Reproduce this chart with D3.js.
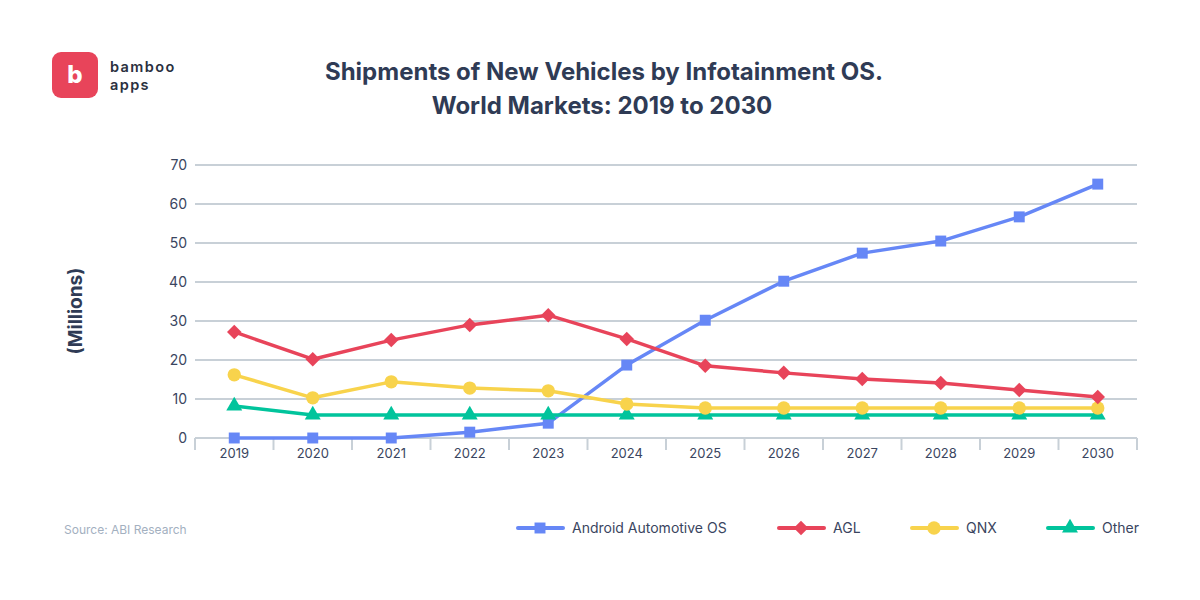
<!DOCTYPE html>
<html><head><meta charset="utf-8">
<script src="https://cdn.jsdelivr.net/npm/d3@7"></script>
<style>
html,body{margin:0;padding:0;background:#fff;}
svg{display:block;font-family:Inter, "Noto Sans", sans-serif;}
</style></head>
<body><svg id="c" width="1200" height="600"></svg>
<script>
const years = ["2019","2020","2021","2022","2023","2024","2025","2026","2027","2028","2029","2030"];
const android = [0,0,0,1.5,3.8,18.7,30.2,40.2,47.4,50.5,56.7,65.1];
const agl = [27.2,20.2,25.1,29,31.5,25.4,18.5,16.7,15.1,14.1,12.3,10.5];
const qnx = [16.2,10.3,14.4,12.8,12.1,8.7,7.7,7.7,7.7,7.7,7.7,7.7];
const other = [8.2,5.9,5.9,5.9,5.9,5.9,5.9,5.9,5.9,5.9,5.9,5.9];
const yTicks = [0,10,20,30,40,50,60,70];
const seriesNames = ["Android Automotive OS","AGL","QNX","Other"];

const series = [
  {name:seriesNames[0], values:android, color:"#6687f6", sym:d3.symbolSquare, size:120, rot:0},
  {name:seriesNames[1], values:agl, color:"#e8445a", sym:d3.symbolSquare, size:105, rot:45},
  {name:seriesNames[2], values:qnx, color:"#f8d34c", sym:d3.symbolCircle, size:140, rot:0},
  {name:seriesNames[3], values:other, color:"#01c49c", sym:d3.symbolTriangle, size:110, rot:0}
];

const svg = d3.select("#c");
const L=195, R=1137, T=165, B=438;
const x = d3.scaleBand().domain(years).range([L,R]);
const y = d3.scaleLinear().domain([0,70]).range([B,T]);
const textCol = "#2f3b55";

// logo
svg.append("rect").attr("x",52).attr("y",52).attr("width",46).attr("height",46).attr("rx",9).attr("fill","#e8445a");
svg.append("text").attr("x",75).attr("y",83).attr("text-anchor","middle").attr("fill","#fff")
  .attr("font-size",24).attr("font-weight",800).text("b");
svg.append("text").attr("x",110).attr("y",72).attr("fill","#2a3040").attr("font-size",14.5)
  .attr("font-weight",600).attr("letter-spacing",1.4).text("bamboo");
svg.append("text").attr("x",110).attr("y",90).attr("fill","#2a3040").attr("font-size",14.5)
  .attr("font-weight",600).attr("letter-spacing",1.4).text("apps");

// title
svg.append("text").attr("x",604).attr("y",80).attr("text-anchor","middle").attr("fill",textCol)
  .attr("font-size",24).attr("font-weight",700).text("Shipments of New Vehicles by Infotainment OS.");
svg.append("text").attr("x",602).attr("y",114).attr("text-anchor","middle").attr("fill",textCol)
  .attr("font-size",24).attr("font-weight",700).text("World Markets: 2019 to 2030");

// y title
svg.append("text").attr("transform","translate(82,311) rotate(-90)").attr("text-anchor","middle")
  .attr("fill",textCol).attr("font-size",19).attr("font-weight",700).text("(Millions)");

// grid
svg.append("g").selectAll("line").data(yTicks).join("line")
  .attr("x1",L).attr("x2",R).attr("y1",d=>y(d)).attr("y2",d=>y(d))
  .attr("stroke","#c8d0d7").attr("stroke-width",2);

// y axis labels
svg.append("g").attr("transform",`translate(${L},0)`)
  .call(d3.axisLeft(y).tickValues(yTicks).tickSize(0).tickPadding(8))
  .call(g=>g.select(".domain").remove())
  .call(g=>g.selectAll("text").attr("font-size",14).attr("fill","#3a4560").attr("font-family","Inter, sans-serif"));

// x axis
const xa = svg.append("g").attr("transform",`translate(0,${B})`)
  .call(d3.axisBottom(x).tickSize(0).tickPadding(11));
xa.select(".domain").remove();
xa.selectAll("text").attr("font-size",13).attr("fill","#3a4560").attr("font-family","Inter, sans-serif");
const bounds = years.map(d=>x(d)).concat([R]);
svg.append("g").selectAll("line").data(bounds).join("line")
  .attr("x1",d=>d).attr("x2",d=>d).attr("y1",B).attr("y2",B+12)
  .attr("stroke","#c8d0d7").attr("stroke-width",2);

// lines
const line = d3.line().x((d,i)=>x(years[i])+x.bandwidth()/2).y(d=>y(d));
const drawOrder = [0,3,2,1];
drawOrder.forEach(k=>{
  const s = series[k];
  const g = svg.append("g");
  g.append("path").attr("d",line(s.values)).attr("fill","none").attr("stroke",s.color)
    .attr("stroke-width",3.5).attr("stroke-linejoin","round");
  g.selectAll("path.m").data(s.values).join("path").attr("class","m")
    .attr("transform",(d,i)=>`translate(${x(years[i])+x.bandwidth()/2},${y(d)}) rotate(${s.rot})`)
    .attr("d",d3.symbol().type(s.sym).size(s.size)).attr("fill",s.color);
});

// source
svg.append("text").attr("x",64).attr("y",534).attr("fill","#a3b0bf").attr("font-size",12).text("Source: ABI Research");

// legend
const legX = [518,779,912,1048];
series.forEach((s,k)=>{
  const g = svg.append("g").attr("transform",`translate(${legX[k]},528)`);
  g.append("line").attr("x1",0).attr("x2",45).attr("y1",0).attr("y2",0).attr("stroke",s.color).attr("stroke-width",4).attr("stroke-linecap","round");
  g.append("path").attr("transform",`translate(22,0) rotate(${s.rot})`).attr("d",d3.symbol().type(s.sym).size(s.size)).attr("fill",s.color);
  g.append("text").attr("x",54).attr("y",5).attr("fill","#3a4560").attr("font-size",14).text(s.name);
});
</script></body></html>
